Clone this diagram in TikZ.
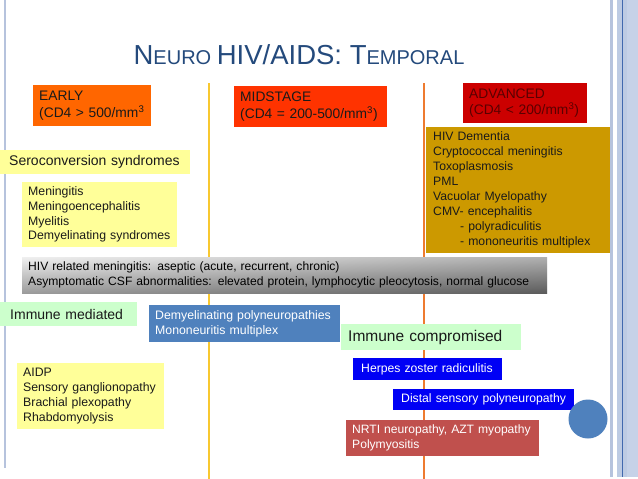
\documentclass[tikz,border=0pt]{standalone}
\usepackage{fontspec}
\setmainfont{Liberation Sans}
\newcommand\myfs[2]{\fontsize{#1}{#2}\selectfont}
\definecolor{cTitle}{HTML}{244A7C}
\definecolor{cEarly}{HTML}{FF6600}
\definecolor{cMid}{HTML}{FF3300}
\definecolor{cAdv}{HTML}{CC0000}
\definecolor{cAdvTxt}{HTML}{5A0000}
\definecolor{cGold}{HTML}{CC9900}
\definecolor{cLYel}{HTML}{FFFF99}
\definecolor{cLGrn}{HTML}{CCFFCC}
\definecolor{cSteel}{HTML}{4F81BD}
\definecolor{cBlue}{HTML}{0000F5}
\definecolor{cRed}{HTML}{C0504D}
\definecolor{cYLine}{HTML}{F8C830}
\definecolor{cOLine}{HTML}{EE7B30}
\definecolor{cBorder}{HTML}{B6C3DD}
\definecolor{cBand}{HTML}{BDCBE3}
\definecolor{cBandL}{HTML}{C6D2E8}
\definecolor{cBandD}{HTML}{4169AE}
\definecolor{cTxt}{HTML}{1A1A1A}
\tikzset{
  blk/.style={anchor=north west, inner xsep=6pt, inner ysep=0pt, align=left, text=cTxt},
  vline/.style={line width=2.2pt},
}
\begin{document}
\begin{tikzpicture}[x=1pt,y=-1pt]
\useasboundingbox (0,0) rectangle (638,479);
\fill[white] (0,0) rectangle (638,479);
% slide border
\draw[cBorder, line width=2pt] (5,0) -- (5,468);
\draw[cBorder, line width=3pt] (611.5,0) -- (611.5,477);
\fill[cBand] (617,0) rectangle (638,477);
\fill[cBandL] (627,0) rectangle (638,477);
\draw[cBandD, line width=0.9pt] (622,0) -- (622,477);
% title
\node[text=cTitle, anchor=base] (title) at (299,64)
  {\myfs{27.5}{30}N\myfs{20}{24}EURO \myfs{27.5}{30}HIV/AIDS: T\myfs{20}{24}EMPORAL};
% timeline lines
\coordinate (ytop) at (209,83);
\coordinate (ybot) at (209,479);
\coordinate (otop) at (424,83);
\coordinate (obot) at (424,479);
\draw[vline, cYLine] (ytop) -- (ybot);
\draw[vline, cOLine] (otop) -- (obot);
% stage headers
\node[blk, fill=cEarly, minimum width=118pt, minimum height=41pt, text width=106pt, font=\myfs{13.8}{16.5}] (early) at (33,85)
  {EARLY\\(CD4 > 500/mm\textsuperscript{3}};
\node[blk, fill=cMid, minimum width=153pt, minimum height=41pt, text width=141pt, font=\myfs{13.8}{16.5}] (mid) at (234,86)
  {MIDSTAGE\\(CD4 = 200-500/mm\textsuperscript{3})};
\node[blk, fill=cAdv, text=cAdvTxt, minimum width=124pt, minimum height=40pt, text width=112pt, inner xsep=6pt, font=\myfs{13.8}{16.5}] (adv) at (463,83)
  {ADVANCED\\(CD4 < 200/mm\textsuperscript{3})};
% advanced list
\node[blk, fill=cGold, minimum width=184pt, minimum height=126pt, text width=170pt, inner xsep=7pt, font=\myfs{12.2}{15}] (dem) at (426,127)
  {HIV Dementia\\Cryptococcal meningitis\\Toxoplasmosis\\PML\\Vacuolar Myelopathy\\CMV- encephalitis\\\hspace*{27pt}- polyradiculitis\\\hspace*{27pt}- mononeuritis multiplex};
% early
\node[blk, fill=cLYel, minimum width=190pt, minimum height=24pt, text width=172pt, inner xsep=9pt, font=\myfs{14}{16}] (sero) at (0,150)
  {Seroconversion syndromes};
\node[blk, fill=cLYel, minimum width=155pt, minimum height=65pt, text width=143pt, font=\myfs{12.3}{14.7}] (men) at (22,182)
  {Meningitis\\Meningoencephalitis\\Myelitis\\Demyelinating syndromes};
% gray bar
\node[blk, top color=white!92!black, bottom color=black!52, text=black, minimum width=525pt, minimum height=36pt, text width=513pt, font=\myfs{12.1}{15},
  path picture={\shade[left color=white, right color=black, fill opacity=0.25] (path picture bounding box.south west) rectangle (path picture bounding box.north east);}] (csf) at (22,257)
  {HIV related meningitis: aseptic (acute, recurrent, chronic)\\Asymptomatic CSF abnormalities: elevated protein, lymphocytic pleocytosis, normal glucose};
% lower part
\node[blk, fill=cLGrn, minimum width=137pt, minimum height=24pt, text width=125pt, inner xsep=6pt, font=\myfs{14}{16}] (immmed) at (0,302)
  {\hspace*{4pt}Immune mediated};
\node[blk, fill=cSteel, text=white, minimum width=191pt, minimum height=37pt, text width=179pt, font=\myfs{12.3}{14.5}] (demy) at (149,305)
  {Demyelinating polyneuropathies\\Mononeuritis multiplex};
\node[blk, fill=cLGrn, minimum width=178pt, minimum height=26pt, text width=166pt, inner xsep=7pt, font=\myfs{15.5}{18}] (immcomp) at (341,324)
  {Immune compromised};
\node[blk, fill=cBlue, text=white, minimum width=147pt, minimum height=22pt, text width=133pt, inner xsep=8pt, font=\myfs{12.2}{14}] (herpes) at (353,358)
  {Herpes zoster radiculitis};
\node[blk, fill=cBlue, text=white, minimum width=181pt, minimum height=21pt, text width=165pt, inner xsep=8pt, font=\myfs{12.2}{14}] (distal) at (393,389)
  {Distal sensory polyneuropathy};
\node[blk, fill=cRed, text=white, minimum width=193pt, minimum height=36pt, text width=181pt, font=\myfs{12.1}{15}] (nrti) at (346,420)
  {NRTI neuropathy, AZT myopathy\\Polymyositis};
\node[blk, fill=cLYel, minimum width=147pt, minimum height=66pt, text width=135pt, font=\myfs{12.3}{15}] (aidp) at (17,363)
  {AIDP\\Sensory ganglionopathy\\Brachial plexopathy\\Rhabdomyolysis};
% decorative circle
\node[circle, fill=cSteel, minimum size=39pt, inner sep=0pt] (dot) at (588,419) {};
\end{tikzpicture}
\end{document}
